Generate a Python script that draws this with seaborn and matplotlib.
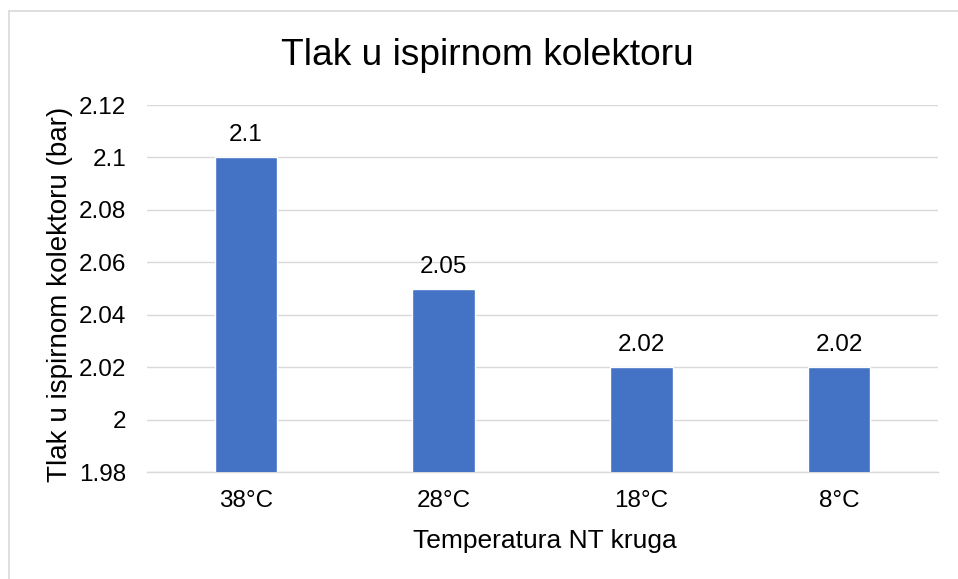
import matplotlib
matplotlib.use("Agg")
import matplotlib.pyplot as plt
import seaborn as sns
import pandas as pd
from matplotlib.ticker import FuncFormatter, MultipleLocator
from matplotlib.lines import Line2D

categories = ["38°C", "28°C", "18°C", "8°C"]
values = [2.10, 2.05, 2.02, 2.02]
value_labels = ["2.1", "2.05", "2.02", "2.02"]

title = "Tlak u ispirnom kolektoru"
xlabel = "Temperatura NT kruga"
ylabel = "Tlak u ispirnom kolektoru (bar)"

sns.set_theme(style="white")
plt.rcParams['font.family'] = ['Liberation Sans', 'DejaVu Sans']
plt.rcParams['text.color'] = 'black'

df = pd.DataFrame({"cat": categories, "val": values})

W, H = 958, 579
fig = plt.figure(figsize=(W/100, H/100), dpi=100)
ax = fig.add_axes([147/W, 1-472/H, (938-147)/W, (472-105)/H])

sns.barplot(data=df, x="cat", y="val", color="#4472C4", width=0.315,
            saturation=1, ax=ax, zorder=3)

ax.set_ylim(1.98, 2.12)
ax.set_xlim(-0.5, 3.5)
ax.yaxis.set_major_locator(MultipleLocator(0.02))
ax.yaxis.set_major_formatter(FuncFormatter(lambda v, p: f"{round(v, 4):g}"))
ax.grid(axis="y", color="#D9D9D9", linewidth=1, zorder=0)
for s in ["top", "right", "left"]:
    ax.spines[s].set_visible(False)
ax.spines["bottom"].set_color("#D9D9D9")
ax.spines["bottom"].set_linewidth(1)
ax.tick_params(axis="both", length=0, labelsize=17.5, colors="black")
ax.tick_params(axis="y", pad=15)
ax.tick_params(axis="x", pad=13)
ax.set_xlabel("")
ax.set_ylabel("")

for i, (v, lab) in enumerate(zip(values, value_labels)):
    ax.annotate(lab, (i, v), xytext=(0, 11.5), textcoords="offset points",
                ha="center", va="baseline", fontsize=17.5, color="black")

fig.text(544.5/W, 1-548/H, xlabel, ha="center", va="baseline", fontsize=19, color="black")
fig.text(60/W, 1-294/H, ylabel, ha="center", va="center", rotation=90, fontsize=20, color="black")
fig.text(487.5/W, 1-65/H, title, ha="center", va="baseline", fontsize=26.7, color="black")

fig.add_artist(Line2D([8.5/W, 8.5/W], [0, 1-10.5/H], color="#D9D9D9", lw=1.2, transform=fig.transFigure))
fig.add_artist(Line2D([8.5/W, 1], [1-10.5/H, 1-10.5/H], color="#D9D9D9", lw=1.2, transform=fig.transFigure))

fig.savefig("out.png", dpi=100)
